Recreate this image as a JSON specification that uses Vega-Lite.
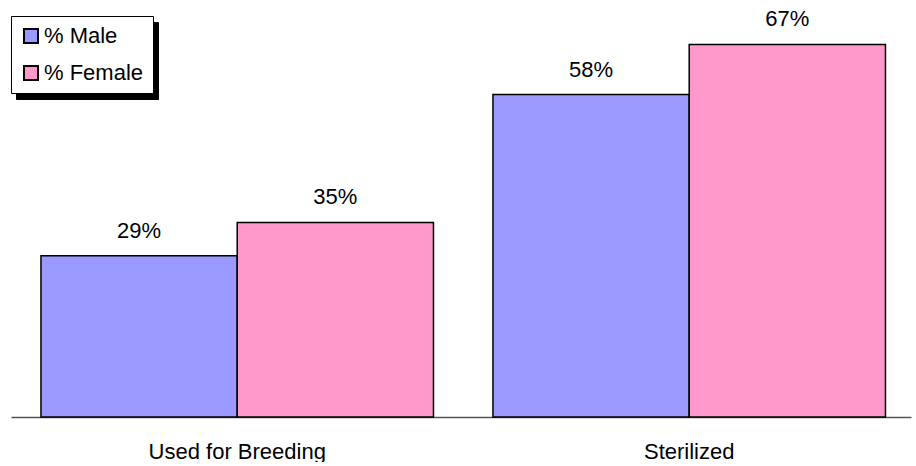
{
  "$schema": "https://vega.github.io/schema/vega-lite/v6.json",
  "width": 900,
  "height": 417,
  "padding": {"left": 10, "top": 0, "right": 6, "bottom": 0},
  "background": "white",
  "config": {
    "view": {"stroke": null},
    "font": "Liberation Sans"
  },
  "data": {
    "values": [
      {"group": "Used for Breeding", "sex": "% Male", "value": 29, "label": "29%"},
      {"group": "Used for Breeding", "sex": "% Female", "value": 35, "label": "35%"},
      {"group": "Sterilized", "sex": "% Male", "value": 58, "label": "58%"},
      {"group": "Sterilized", "sex": "% Female", "value": 67, "label": "67%"}
    ]
  },
  "encoding": {
    "x": {
      "field": "group",
      "type": "nominal",
      "sort": ["Used for Breeding", "Sterilized"],
      "scale": {"paddingInner": 0.1316, "paddingOuter": 0.0614, "align": 0.54},
      "axis": {
        "title": null,
        "labelAngle": 0,
        "ticks": false,
        "labelFontSize": 22,
        "labelColor": "black",
        "labelPadding": 24,
        "domainColor": "#555555",
        "domainWidth": 1.5,
        "labelFont": "Liberation Sans"
      }
    },
    "xOffset": {
      "field": "sex",
      "type": "nominal",
      "sort": ["% Male", "% Female"],
      "scale": {"paddingInner": 0, "paddingOuter": 0}
    },
    "y": {
      "field": "value",
      "type": "quantitative",
      "scale": {"domain": [0, 75], "nice": false},
      "axis": null
    }
  },
  "layer": [
    {
      "mark": {"type": "bar", "stroke": "black", "strokeWidth": 1.5},
      "encoding": {
        "color": {
          "field": "sex",
          "type": "nominal",
          "sort": ["% Male", "% Female"],
          "scale": {"domain": ["% Male", "% Female"], "range": ["#9999FF", "#FF99CC"]},
          "legend": {
            "title": null,
            "orient": "none",
            "legendX": 0,
            "legendY": 16,
            "zindex": 2,
            "symbolType": "square",
            "symbolSize": 196,
            "symbolStrokeColor": "black",
            "symbolStrokeWidth": 2,
            "symbolOpacity": 1,
            "labelFontSize": 22,
            "labelColor": "black",
            "labelFont": "Liberation Sans",
            "labelOffset": 2,
            "rowPadding": 15,
            "padding": 9,
            "fillColor": "white",
            "strokeColor": "black"
          }
        },
        "opacity": {
          "field": "sex",
          "type": "nominal",
          "sort": ["% Male", "% Female"],
          "scale": {"range": [1, 1]},
          "legend": {
            "title": null,
            "orient": "none",
            "legendX": 5,
            "legendY": 22,
            "zindex": 1,
            "symbolType": "M-1,-1.5H17.3V1.5H-1Z",
            "symbolSize": 169,
            "symbolFillColor": "black",
            "symbolStrokeWidth": 0,
            "labelExpr": "''",
            "labelFontSize": 22,
            "labelOffset": 0,
            "rowPadding": 15,
            "padding": 9,
            "fillColor": "black",
            "strokeColor": "black"
          }
        }
      }
    },
    {
      "mark": {"type": "text", "baseline": "alphabetic", "dy": -18, "fontSize": 22, "color": "black", "font": "Liberation Sans"},
      "encoding": {
        "text": {"field": "label"}
      }
    }
  ]
}
